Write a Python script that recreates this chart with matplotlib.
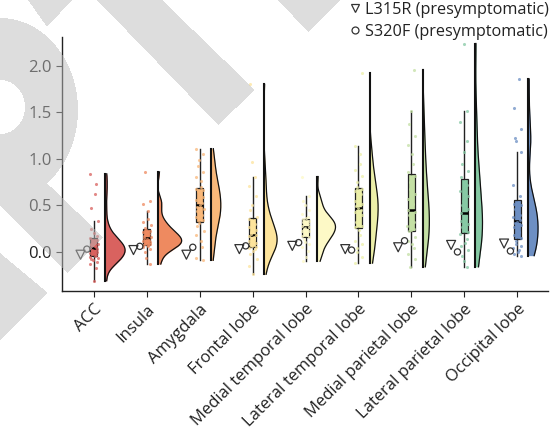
"""Raincloud plot of regional values with two presymptomatic carriers."""

import numpy as np
import matplotlib
matplotlib.use('Agg')
import matplotlib.pyplot as plt
from matplotlib.path import Path
from matplotlib.lines import Line2D

plt.rcParams['font.family'] = ['Open Sans', 'DejaVu Sans']

# ---- data ----
regions = ['ACC', 'Insula', 'Amygdala', 'Frontal lobe', 'Medial temporal lobe',
           'Lateral temporal lobe', 'Medial parietal lobe', 'Lateral parietal lobe',
           'Occipital lobe']
colors = ['#d9625f', '#ee8a60', '#f9b87a', '#fde49c', '#fdf9c6',
          '#ecefa8', '#c4e0a4', '#86c9a4', '#6d8fc3']

acc = [-0.31, -0.17, -0.13, -0.11, -0.09, -0.08, -0.07, -0.055, -0.045, -0.03,
       -0.015, 0.00, 0.01, 0.02, 0.03, 0.04, 0.05, 0.06, 0.07, 0.08, 0.09, 0.11,
       0.13, 0.15, 0.17, 0.20, 0.25, 0.33, 0.47, 0.62, 0.73, 0.84]
insula = [-0.13, -0.06, 0.00, 0.03, 0.05, 0.06, 0.07, 0.075, 0.08, 0.09, 0.10,
          0.11, 0.12, 0.13, 0.14, 0.15, 0.16, 0.17, 0.18, 0.19, 0.21, 0.23, 0.24,
          0.26, 0.29, 0.32, 0.35, 0.44, 0.52, 0.55, 0.86]
amygdala = [-0.09, -0.06, 0.05, 0.12, 0.18, 0.23, 0.28, 0.31, 0.34, 0.37, 0.40,
            0.42, 0.44, 0.46, 0.48, 0.50, 0.53, 0.56, 0.59, 0.62, 0.65, 0.67,
            0.68, 0.70, 0.76, 0.80, 0.86, 0.92, 0.99, 1.05, 1.11]
frontal = [-0.24, -0.15, -0.08, -0.02, 0.01, 0.03, 0.04, 0.05, 0.06, 0.08, 0.10,
           0.12, 0.14, 0.16, 0.17, 0.18, 0.19, 0.21, 0.24, 0.27, 0.30, 0.33, 0.35,
           0.38, 0.45, 0.50, 0.60, 0.71, 0.80, 0.97, 1.80]
med_temporal = [-0.10, -0.05, 0.01, 0.05, 0.08, 0.11, 0.14, 0.16, 0.17, 0.18,
                0.20, 0.22, 0.23, 0.25, 0.26, 0.27, 0.28, 0.30, 0.31, 0.32, 0.33,
                0.35, 0.36, 0.38, 0.41, 0.45, 0.50, 0.55, 0.60, 0.81]
lat_temporal = [-0.12, -0.05, 0.00, 0.04, 0.08, 0.12, 0.18, 0.24, 0.27, 0.28,
                0.32, 0.36, 0.40, 0.43, 0.45, 0.47, 0.49, 0.52, 0.55, 0.58, 0.62,
                0.65, 0.68, 0.70, 0.75, 0.82, 0.88, 0.95, 1.05, 1.14, 1.92]
med_parietal = [-0.16, -0.08, -0.02, 0.04, 0.08, 0.12, 0.16, 0.22, 0.24, 0.25,
                0.28, 0.32, 0.36, 0.40, 0.43, 0.45, 0.48, 0.52, 0.57, 0.62, 0.68,
                0.75, 0.82, 0.86, 0.95, 1.05, 1.15, 1.25, 1.38, 1.52, 1.96]
lat_parietal = [-0.16, -0.10, -0.04, 0.02, 0.06, 0.10, 0.14, 0.19, 0.21, 0.24,
                0.27, 0.30, 0.33, 0.36, 0.39, 0.42, 0.46, 0.50, 0.55, 0.60, 0.66,
                0.72, 0.76, 0.80, 0.87, 0.95, 1.07, 1.19, 1.40, 1.52, 2.24]
occipital = [-0.04, -0.02, 0.00, 0.02, 0.04, 0.06, 0.09, 0.12, 0.15, 0.18, 0.21,
             0.24, 0.27, 0.29, 0.31, 0.32, 0.34, 0.37, 0.40, 0.44, 0.46, 0.50,
             0.52, 0.54, 0.60, 0.72, 1.07, 1.19, 1.22, 1.32, 1.55, 1.86]
values = [acc, insula, amygdala, frontal, med_temporal, lat_temporal,
          med_parietal, lat_parietal, occipital]

l315r = [-0.03, 0.02, -0.03, 0.03, 0.065, 0.03, 0.05, 0.075, 0.09]
s320f = [0.03, 0.06, 0.05, 0.065, 0.10, 0.02, 0.12, 0.00, 0.01]


def kde(data, grid):
    # gaussian kde, scott factor applied to a robust spread
    data = np.asarray(data, float)
    q1, q3 = np.percentile(data, [25, 75])
    sig = min(data.std(ddof=1), (q3 - q1) / 1.34)
    bw = sig * len(data) ** (-1 / 5)
    z = (grid[:, None] - data[None, :]) / bw
    return np.exp(-0.5 * z ** 2).sum(1) / (len(data) * bw * np.sqrt(2 * np.pi))


W, H = 553, 434
fig = plt.figure(figsize=(W / 100, H / 100), dpi=100)
ax = fig.add_axes([62 / W, 1 - 291 / H, (548 - 62) / W, (291 - 37) / H])
ax.set_xlim(-0.6, 8.58)
ax.set_ylim(-0.42, 2.31)

# half violins (same area for each)
grids = [np.linspace(min(v), max(v), 300) for v in values]
dens = [kde(v, g) for v, g in zip(values, grids)]
scale = 0.45 / max(d.max() for d in dens)
off = 0.21
for i, (g, d, c) in enumerate(zip(grids, dens, colors)):
    x0 = i + off
    ax.fill_betweenx(g, x0, x0 + d * scale, color=c, lw=0, zorder=2)
    ax.plot(x0 + d * scale, g, color='#111111', lw=0.9, zorder=2.5)
    ax.plot([x0, x0], [g[0], g[-1]], color='#111111', lw=1.5, zorder=2.5)

# boxes
bp = ax.boxplot(values, positions=range(len(values)), widths=0.13,
                patch_artist=True, showfliers=False, showcaps=False,
                medianprops=dict(color='black', lw=1.8),
                whiskerprops=dict(color='#222222', lw=1.0),
                boxprops=dict(edgecolor='#222222', lw=0.9), zorder=3)
for patch, c in zip(bp['boxes'], colors):
    patch.set_facecolor(c)

# strip points (fixed jitter pattern)
for i, (v, c) in enumerate(zip(values, colors)):
    jit = 0.075 * np.sin(np.arange(len(v)) * 2.39 + i)
    ax.scatter(i + jit, v, s=5, color=c, alpha=0.75, lw=0, zorder=4)

# presymptomatic carriers
pos = np.arange(len(regions))
ax.scatter(pos - 0.25, l315r, marker='v', s=42, facecolors='none',
           edgecolors='#333333', lw=0.9, zorder=5)
ax.scatter(pos - 0.13, s320f, marker='o', s=20, facecolors='none',
           edgecolors='#333333', lw=0.9, zorder=5)

ax.set_xticks(pos)
ax.set_xticklabels(regions, rotation=45, ha='right', rotation_mode='anchor')
ax.set_yticks([0.0, 0.5, 1.0, 1.5, 2.0])
ax.set_yticklabels(['0.0', '0.5', '1.0', '1.5', '2.0'])
ax.tick_params(labelsize=12, colors='#222222', length=4, width=0.8)
for s in ['top', 'right']:
    ax.spines[s].set_visible(False)
for s in ['left', 'bottom']:
    ax.spines[s].set_color('#222222')
    ax.spines[s].set_linewidth(1.0)

handles = [Line2D([], [], marker='v', ls='none', mfc='none', mec='#333333', ms=6, mew=0.9),
           Line2D([], [], marker='o', ls='none', mfc='none', mec='#333333', ms=5, mew=0.9)]
fig.legend(handles, ['L315R (presymptomatic)', 'S320F (presymptomatic)'],
           loc='upper right', bbox_to_anchor=(549 / W, 1 - 2 / H), frameon=False,
           fontsize=11.7, borderpad=0, borderaxespad=0, handlelength=0.6,
           handletextpad=0.3, labelspacing=0.35, labelcolor='#222222')

# light grey watermark shapes lying over the figure
yy, xx = np.mgrid[0:H, 0:W] + 0.5
pts = np.column_stack([xx.ravel(), yy.ravel()])
mark = ((xx / 78) ** 2 + ((yy - 110) / 92) ** 2 <= 1) & \
       ~((xx / 25) ** 2 + ((yy - 107) / 27) ** 2 <= 1)
mark = mark.ravel()
for poly in [[(28, 0), (72, 0), (47, 27)],
             [(97, 0), (162, 0), (255, 90), (218, 125)],
             [(278, 0), (340, 0), (308, 32)],
             [(0, 138), (103, 237), (68, 273), (0, 205)],
             [(0, 253), (48, 293), (0, 340)]]:
    mark |= Path(poly).contains_points(pts)
rgba = np.zeros((H, W, 4))
rgba[..., :3] = 187 / 255
rgba[..., 3] = mark.reshape(H, W) * 0.5
ov = fig.add_axes([0, 0, 1, 1], zorder=10)
ov.imshow(rgba, extent=(0, W, H, 0), aspect='auto', interpolation='nearest')
ov.axis('off')

fig.savefig('out.png', dpi=100, facecolor='white')
